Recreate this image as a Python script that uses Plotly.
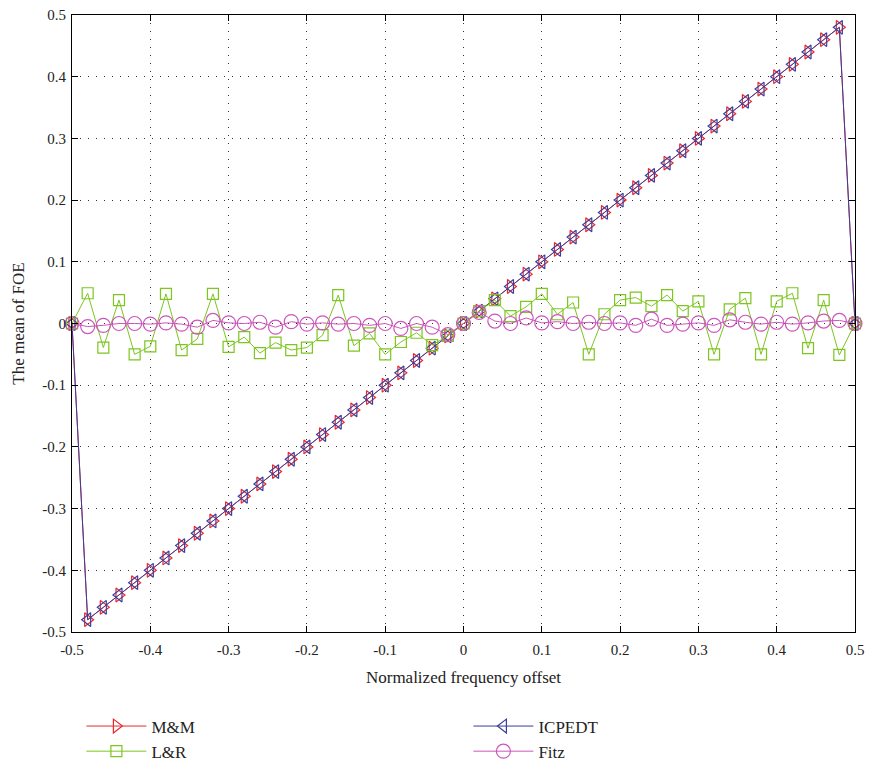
import plotly.graph_objects as go

x_vals = [-0.50, -0.48, -0.46, -0.44, -0.42, -0.40, -0.38, -0.36, -0.34, -0.32,
          -0.30, -0.28, -0.26, -0.24, -0.22, -0.20, -0.18, -0.16, -0.14, -0.12,
          -0.10, -0.08, -0.06, -0.04, -0.02, 0.00, 0.02, 0.04, 0.06, 0.08,
          0.10, 0.12, 0.14, 0.16, 0.18, 0.20, 0.22, 0.24, 0.26, 0.28,
          0.30, 0.32, 0.34, 0.36, 0.38, 0.40, 0.42, 0.44, 0.46, 0.48, 0.50]

mm_vals = [0.0, -0.48, -0.46, -0.44, -0.42, -0.40, -0.38, -0.36, -0.34, -0.32,
           -0.30, -0.28, -0.26, -0.24, -0.22, -0.20, -0.18, -0.16, -0.14, -0.12,
           -0.10, -0.08, -0.06, -0.04, -0.02, 0.00, 0.02, 0.04, 0.06, 0.08,
           0.10, 0.12, 0.14, 0.16, 0.18, 0.20, 0.22, 0.24, 0.26, 0.28,
           0.30, 0.32, 0.34, 0.36, 0.38, 0.40, 0.42, 0.44, 0.46, 0.48, 0.0]

icpedt_vals = [0.0, -0.48, -0.46, -0.44, -0.42, -0.40, -0.38, -0.36, -0.34, -0.32,
               -0.30, -0.28, -0.26, -0.24, -0.22, -0.20, -0.18, -0.16, -0.14, -0.12,
               -0.10, -0.08, -0.06, -0.04, -0.02, 0.00, 0.02, 0.04, 0.06, 0.08,
               0.10, 0.12, 0.14, 0.16, 0.18, 0.20, 0.22, 0.24, 0.26, 0.28,
               0.30, 0.32, 0.34, 0.36, 0.38, 0.40, 0.42, 0.44, 0.46, 0.48, 0.0]

lr_vals = [0.0, 0.049, -0.039, 0.038, -0.050, -0.037, 0.048, -0.043, -0.025, 0.048,
           -0.038, -0.022, -0.048, -0.031, -0.043, -0.039, -0.019, 0.046, -0.036, -0.016,
           -0.050, -0.030, -0.015, -0.035, -0.020, 0.0, 0.020, 0.038, 0.012, 0.027,
           0.048, 0.015, 0.034, -0.050, 0.015, 0.038, 0.042, 0.028, 0.046, 0.020,
           0.036, -0.050, 0.023, 0.041, -0.050, 0.036, 0.049, -0.040, 0.038, -0.051, 0.0]

fitz_vals = [0.0, -0.005, -0.003, 0.0, 0.0, -0.001, 0.001, -0.001, -0.006, 0.005,
             0.001, 0.0, 0.002, -0.006, 0.003, -0.001, 0.001, -0.001, 0.0, -0.003,
             0.0, -0.008, 0.0, -0.006, -0.018, 0.0, 0.018, 0.004, 0.0, 0.009,
             0.001, 0.003, 0.0, 0.002, 0.0, 0.001, -0.003, 0.007, -0.003, -0.001,
             0.001, -0.003, 0.006, 0.002, -0.001, 0.002, -0.001, 0.001, 0.004, 0.005, 0.0]

tick_vals = [-0.5, -0.4, -0.3, -0.2, -0.1, 0, 0.1, 0.2, 0.3, 0.4, 0.5]
tick_text = ["-0.5", "-0.4", "-0.3", "-0.2", "-0.1", "0", "0.1", "0.2", "0.3", "0.4", "0.5"]

RED = "#e8282c"
BLUE = "#3a3f9e"
GREEN = "#7cc61f"
MAGENTA = "#cc55bb"

fig = go.Figure()
fig.add_trace(go.Scatter(x=x_vals, y=mm_vals, name="M&M", mode="lines+markers",
                         line=dict(color=RED, width=1),
                         marker=dict(symbol="triangle-right-open", size=12, color=RED, line=dict(width=1.2)),
                         cliponaxis=False))
fig.add_trace(go.Scatter(x=x_vals, y=icpedt_vals, name="ICPEDT", mode="lines+markers",
                         line=dict(color=BLUE, width=1),
                         marker=dict(symbol="triangle-left-open", size=12, color=BLUE, line=dict(width=1.2)),
                         cliponaxis=False))
fig.add_trace(go.Scatter(x=x_vals, y=lr_vals, name="L&R", mode="lines+markers",
                         line=dict(color=GREEN, width=1),
                         marker=dict(symbol="square-open", size=11, color=GREEN, line=dict(width=1.2)),
                         cliponaxis=False))
fig.add_trace(go.Scatter(x=x_vals, y=fitz_vals, name="Fitz", mode="lines+markers",
                         line=dict(color=MAGENTA, width=1),
                         marker=dict(symbol="circle-open", size=14, color=MAGENTA, line=dict(width=1.2)),
                         cliponaxis=False))

axis_common = dict(
    range=[-0.5, 0.5], tickvals=tick_vals, ticktext=tick_text,
    showgrid=True, gridcolor="#333333", griddash="1px,7px", gridwidth=1,
    zeroline=False, showline=True, linecolor="black", linewidth=1.2,
    mirror="ticks", ticks="inside", ticklen=6, tickcolor="black",
    tickfont=dict(family="Liberation Serif", size=15, color="#222222"),
    automargin=False, ticklabeloverflow="allow",
)

fig.update_layout(
    width=869, height=769,
    margin=dict(l=72, r=14, t=15, b=137, autoexpand=False),
    plot_bgcolor="white", paper_bgcolor="white",
    font=dict(family="Liberation Serif", size=16, color="#222222"),
    xaxis=dict(**axis_common, ticklabelstandoff=4,
               title=dict(text="Normalized frequency offset", standoff=14,
                          font=dict(family="Liberation Serif", size=17))),
    yaxis=dict(**axis_common, ticklabelstandoff=2,
               title=dict(text="The mean of FOE", standoff=13,
                          font=dict(family="Liberation Serif", size=17))),
    legend=dict(orientation="h", x=0.012, xanchor="left", y=-0.124, yanchor="top",
                entrywidth=312, entrywidthmode="pixels", itemwidth=60,
                font=dict(family="Liberation Serif", size=17, color="#222222"),
                bgcolor="rgba(0,0,0,0)"),
    showlegend=True,
)

fig.write_html("out.html", config={"displayModeBar": False},
               post_script="document.body.style.margin='0px';")
